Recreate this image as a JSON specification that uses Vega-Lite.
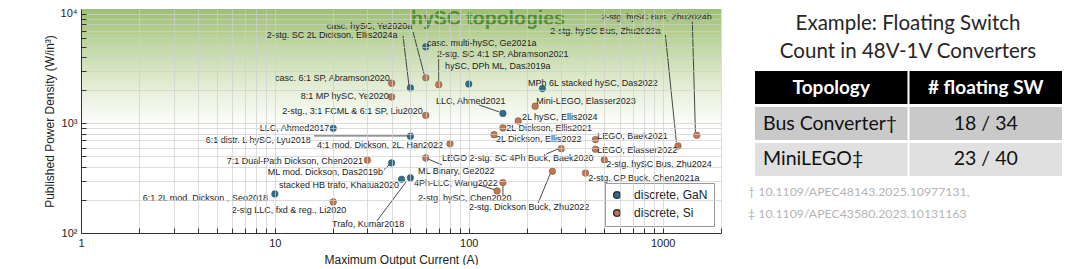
{
  "$schema": "https://vega.github.io/schema/vega-lite/v6.json",
  "padding": {"left": 43, "top": 7, "right": 0, "bottom": 0},
  "background": "white",
  "spacing": 26,
  "config": {"view": {"stroke": null}, "font": "Liberation Sans"},
  "resolve": {"scale": {"x": "independent", "y": "independent", "color": "independent"}, "legend": {"color": "independent"}},
  "datasets": {
    "points": [
      {"current": 60, "density": 4970, "tech": "discrete, GaN"},
      {"current": 50, "density": 2100, "tech": "discrete, GaN"},
      {"current": 60, "density": 2600, "tech": "discrete, Si"},
      {"current": 70, "density": 2250, "tech": "discrete, Si"},
      {"current": 100, "density": 2280, "tech": "discrete, GaN"},
      {"current": 40, "density": 2320, "tech": "discrete, Si"},
      {"current": 40, "density": 1740, "tech": "discrete, Si"},
      {"current": 60, "density": 1180, "tech": "discrete, Si"},
      {"current": 240, "density": 2070, "tech": "discrete, GaN"},
      {"current": 150, "density": 1230, "tech": "discrete, GaN"},
      {"current": 220, "density": 1430, "tech": "discrete, Si"},
      {"current": 180, "density": 1050, "tech": "discrete, Si"},
      {"current": 150, "density": 907, "tech": "discrete, Si"},
      {"current": 135, "density": 787, "tech": "discrete, Si"},
      {"current": 80, "density": 649, "tech": "discrete, Si"},
      {"current": 300, "density": 587, "tech": "discrete, Si"},
      {"current": 270, "density": 365, "tech": "discrete, Si"},
      {"current": 450, "density": 710, "tech": "discrete, Si"},
      {"current": 450, "density": 580, "tech": "discrete, Si"},
      {"current": 500, "density": 466, "tech": "discrete, Si"},
      {"current": 400, "density": 352, "tech": "discrete, Si"},
      {"current": 1200, "density": 621, "tech": "discrete, Si"},
      {"current": 1500, "density": 778, "tech": "discrete, Si"},
      {"current": 140, "density": 242, "tech": "discrete, Si"},
      {"current": 150, "density": 288, "tech": "discrete, Si"},
      {"current": 20, "density": 900, "tech": "discrete, GaN"},
      {"current": 50, "density": 762, "tech": "discrete, GaN"},
      {"current": 60, "density": 483, "tech": "discrete, Si"},
      {"current": 30, "density": 461, "tech": "discrete, Si"},
      {"current": 40, "density": 435, "tech": "discrete, GaN"},
      {"current": 45, "density": 309, "tech": "discrete, GaN"},
      {"current": 50, "density": 318, "tech": "discrete, GaN"},
      {"current": 10, "density": 227, "tech": "discrete, GaN"},
      {"current": 20, "density": 192, "tech": "discrete, Si"}
    ],
    "labels": [
      {"text": "casc. hySC, Ye2020a", "current": 18.5, "density": 7730},
      {"text": "2-stg. SC 2L Dickson, Ellis2024a", "current": 9.08, "density": 6400},
      {"text": "casc. multi-hySC, Ge2021a", "current": 60.9, "density": 5410},
      {"text": "2-stg. SC 4:1 SP, Abramson2021", "current": 68.6, "density": 4290},
      {"text": "hySC, DPh ML, Das2019a", "current": 75.4, "density": 3330},
      {"text": "casc. 6:1 SP, Abramson2020", "current": 10.0, "density": 2600},
      {"text": "8:1 MP hySC, Ye2020", "current": 13.6, "density": 1775},
      {"text": "2-stg., 3:1 FCML & 6:1 SP, Liu2020", "current": 10.9, "density": 1297},
      {"text": "MPh 6L stacked hySC, Das2022", "current": 202, "density": 2335},
      {"text": "LLC, Ahmed2021", "current": 67.8, "density": 1600},
      {"text": "Mini-LEGO, Elasser2023", "current": 223, "density": 1600},
      {"text": "2L hySC, Ellis2024", "current": 188, "density": 1143},
      {"text": "2L Dickson, Ellis2021", "current": 156, "density": 908},
      {"text": "LLC, Ahmed2017", "current": 8.35, "density": 908},
      {"text": "6:1 distr. L hySC, Lyu2018", "current": 4.4, "density": 705},
      {"text": "4:1 mod. Dickson, 2L, Han2022", "current": 16.5, "density": 635},
      {"text": "2L Dickson, Ellis2022", "current": 138, "density": 720},
      {"text": "LEGO, Baek2021", "current": 460, "density": 767},
      {"text": "LEGO, Elasser2022", "current": 460, "density": 571},
      {"text": "LEGO 2-stg. SC 4Ph Buck, Baek2020", "current": 72.8, "density": 483},
      {"text": "2-stg. hySC Bus, Zhu2024", "current": 512, "density": 425},
      {"text": "2-stg. CP Buck, Chen2021a", "current": 413, "density": 318},
      {"text": "7:1 Dual-Path Dickson, Chen2021", "current": 5.65, "density": 454},
      {"text": "ML mod. Dickson, Das2019b", "current": 9.19, "density": 360},
      {"text": "stacked HB trafo, Khatua2020", "current": 10.5, "density": 274},
      {"text": "ML Binary, Ge2022", "current": 54.7, "density": 367},
      {"text": "4Ph-LLC, Wang2022", "current": 52.2, "density": 286},
      {"text": "2-stg. hySC, Chen2020", "current": 54.7, "density": 209},
      {"text": "2-stg. Dickson Buck, Zhu2022", "current": 100.4, "density": 171},
      {"text": "6:1 2L mod. Dickson , Seo2018", "current": 2.08, "density": 208},
      {"text": "2-stg LLC, fxd & reg., Li2020", "current": 5.99, "density": 162},
      {"text": "Trafo, Kumar2018", "current": 19.7, "density": 121},
      {"text": "2-stg. hySC Bus, Zhu2024b", "current": 482, "density": 9330},
      {"text": "2-stg. hySC Bus, Zhu2023a", "current": 263, "density": 6950}
    ],
    "arrows": [
      {"x1": 45.8, "y1": 6270, "x2": 49.2, "y2": 2190},
      {"x1": 51.6, "y1": 6810, "x2": 58.8, "y2": 2820},
      {"x1": 70, "y1": 3860, "x2": 70, "y2": 2430},
      {"x1": 15.9, "y1": 767, "x2": 48.0, "y2": 767},
      {"x1": 113, "y1": 1469, "x2": 143.5, "y2": 1270},
      {"x1": 72.8, "y1": 417, "x2": 61.6, "y2": 473},
      {"x1": 36.5, "y1": 376, "x2": 38.8, "y2": 417},
      {"x1": 33.6, "y1": 129, "x2": 47.5, "y2": 292},
      {"x1": 113, "y1": 274, "x2": 137, "y2": 247},
      {"x1": 150, "y1": 222, "x2": 150, "y2": 268},
      {"x1": 251, "y1": 525, "x2": 289, "y2": 583},
      {"x1": 228, "y1": 188, "x2": 263, "y2": 345},
      {"x1": 1033, "y1": 6400, "x2": 1177, "y2": 676},
      {"x1": 1423, "y1": 8400, "x2": 1476, "y2": 834}
    ],
    "region": [
      {"text": "hySC topologies", "current": 50.4, "density": 8960}
    ],
    "table": [
      {"row": "header", "col": "Topology", "text": "Topology"},
      {"row": "header", "col": "# floating SW", "text": "# floating SW"},
      {"row": "Bus Converter", "col": "Topology", "text": "Bus Converter†"},
      {"row": "Bus Converter", "col": "# floating SW", "text": "18 / 34"},
      {"row": "MiniLEGO", "col": "Topology", "text": "MiniLEGO‡"},
      {"row": "MiniLEGO", "col": "# floating SW", "text": "23 / 40"}
    ],
    "notes": [
      {"row": "title", "text": "Example: Floating Switch\nCount in 48V-1V Converters"},
      {"row": "notes", "text": "† 10.1109/APEC48143.2025.10977131,\n‡ 10.1109/APEC43580.2023.10131163"}
    ]
  },
  "hconcat": [
    {
      "width": 640,
      "height": 224,
      "layer": [
        {
          "data": {"values": [{}]},
          "mark": {
            "type": "rect",
            "fill": {
              "gradient": "linear", "x1": 0, "y1": 0, "x2": 0, "y2": 1,
              "stops": [
                {"offset": 0, "color": "#9ebf72"},
                {"offset": 0.35, "color": "#c6dbab"},
                {"offset": 0.7, "color": "#e8f0dc"},
                {"offset": 1, "color": "#ffffff"}
              ]
            }
          },
          "encoding": {
            "x": {
              "datum": 1, "type": "quantitative",
              "scale": {"type": "log", "domain": [1, 2000], "nice": false},
              "axis": {
                "title": "Maximum Output Current (A)",
                "values": [1,2,3,4,5,6,7,8,9,10,20,30,40,50,60,70,80,90,100,200,300,400,500,600,700,800,900,1000,2000],
                "labelExpr": "datum.value == 1 ? '1' : datum.value == 10 ? '10' : datum.value == 100 ? '100' : datum.value == 1000 ? '1000' : ''",
                "labelFontSize": 11, "labelColor": "#222", "labelPadding": 9,
                "titleFontSize": 12, "titleFontWeight": "normal", "titleColor": "#222", "titlePadding": 6,
                "tickSize": -5, "tickColor": "#333", "domainColor": "#333",
                "grid": true, "gridColor": "#cfcfcf", "gridOpacity": 0.7,
                "zindex": 1, "labelFlush": false, "labelOverlap": false
              }
            },
            "x2": {"datum": 2000},
            "y": {
              "datum": 11000, "type": "quantitative",
              "scale": {"type": "log", "domain": [100, 11000], "nice": false},
              "axis": {
                "title": "Published Power Density (W/in³)",
                "values": [100,200,300,400,500,600,700,800,900,1000,2000,3000,4000,5000,6000,7000,8000,9000,10000],
                "labelExpr": "datum.value == 100 ? '10²' : datum.value == 1000 ? '10³' : datum.value == 10000 ? '10⁴' : ''",
                "labelFontSize": 11, "labelColor": "#222", "labelPadding": 9,
                "titleFontSize": 12, "titleFontWeight": "normal", "titleColor": "#222", "titlePadding": 4,
                "tickSize": -5, "tickColor": "#333", "domainColor": "#333",
                "grid": true, "gridColor": "#cfcfcf", "gridOpacity": 0.7,
                "zindex": 1, "labelFlush": false, "labelOverlap": false
              }
            },
            "y2": {"datum": 900}
          }
        },
        {
          "data": {"name": "arrows"},
          "mark": {"type": "rule", "color": "#333", "strokeWidth": 0.9},
          "encoding": {
            "x": {"field": "x1", "type": "quantitative"},
            "y": {"field": "y1", "type": "quantitative"},
            "x2": {"field": "x2"},
            "y2": {"field": "y2"}
          }
        },
        {
          "data": {"name": "points"},
          "mark": {"type": "point", "filled": true, "size": 45, "opacity": 1, "stroke": "#333", "strokeWidth": 0.5, "strokeOpacity": 0.6},
          "encoding": {
            "x": {"field": "current", "type": "quantitative"},
            "y": {"field": "density", "type": "quantitative"},
            "color": {
              "field": "tech", "type": "nominal",
              "scale": {"domain": ["discrete, GaN", "discrete, Si"], "range": ["#2f6d8c", "#c27650"]},
              "legend": {
                "title": null, "orient": "bottom-right", "offset": 7,
                "padding": 6, "strokeColor": "#999", "fillColor": "white",
                "labelFontSize": 12, "labelColor": "#222", "labelOffset": 11,
                "symbolSize": 45, "symbolType": "circle", "rowPadding": 4, "cornerRadius": 0
              }
            }
          }
        },
        {
          "data": {"name": "labels"},
          "mark": {"type": "text", "align": "left", "baseline": "middle", "font": "Liberation Sans", "fontSize": 9, "color": "#222"},
          "encoding": {
            "x": {"field": "current", "type": "quantitative"},
            "y": {"field": "density", "type": "quantitative"},
            "text": {"field": "text"}
          }
        },
        {
          "data": {"name": "region"},
          "mark": {"type": "text", "align": "left", "baseline": "middle", "fontSize": 19.5, "fontWeight": "bold", "color": "#4f8f2f"},
          "encoding": {
            "x": {"field": "current", "type": "quantitative"},
            "y": {"field": "density", "type": "quantitative"},
            "text": {"field": "text"}
          }
        }
      ]
    },
    {
      "width": 320,
      "height": 224,
      "layer": [
        {
          "data": {"name": "table"},
          "mark": {"type": "rect"},
          "encoding": {
            "x": {"field": "col", "type": "nominal", "scale": {"domain": ["Topology", "# floating SW"], "range": [7, 314], "paddingInner": 0.013, "paddingOuter": 0}, "axis": null},
            "y": {"field": "row", "type": "nominal", "scale": {"domain": ["title", "header", "Bus Converter", "MiniLEGO", "notes"], "range": [26, 203], "paddingInner": 0.083, "paddingOuter": 0}, "axis": null},
            "color": {"field": "row", "type": "nominal", "scale": {"domain": ["header", "Bus Converter", "MiniLEGO"], "range": ["#000000", "#c9c9c9", "#e0e0e0"]}, "legend": null}
          }
        },
        {
          "data": {"name": "table"},
          "transform": [{"filter": "datum.row == 'header'"}],
          "mark": {"type": "text", "font": "Lato", "fontSize": 19, "fontWeight": "bold", "color": "white", "align": "center", "baseline": "middle"},
          "encoding": {
            "x": {"field": "col", "type": "nominal", "bandPosition": 0.5},
            "y": {"field": "row", "type": "nominal", "bandPosition": 0.5},
            "text": {"field": "text"}
          }
        },
        {
          "data": {"name": "table"},
          "transform": [{"filter": "datum.row != 'header' && datum.col == 'Topology'"}],
          "mark": {"type": "text", "font": "Lato", "fontSize": 19.5, "color": "#111", "align": "left", "baseline": "middle", "dx": 8},
          "encoding": {
            "x": {"field": "col", "type": "nominal", "bandPosition": 0},
            "y": {"field": "row", "type": "nominal", "bandPosition": 0.5},
            "text": {"field": "text"}
          }
        },
        {
          "data": {"name": "table"},
          "transform": [{"filter": "datum.row != 'header' && datum.col != 'Topology'"}],
          "mark": {"type": "text", "font": "Lato", "fontSize": 19.5, "color": "#111", "align": "center", "baseline": "middle"},
          "encoding": {
            "x": {"field": "col", "type": "nominal", "bandPosition": 0.5},
            "y": {"field": "row", "type": "nominal", "bandPosition": 0.5},
            "text": {"field": "text"}
          }
        },
        {
          "data": {"name": "notes"},
          "transform": [{"filter": "datum.row == 'title'"}],
          "mark": {"type": "text", "font": "Lato", "fontSize": 20.5, "color": "#262626", "align": "center", "baseline": "middle", "lineBreak": "\n", "lineHeight": 28, "dy": -27.5},
          "encoding": {
            "y": {"field": "row", "type": "nominal", "bandPosition": 0.5},
            "text": {"field": "text"}
          }
        },
        {
          "data": {"name": "notes"},
          "transform": [{"filter": "datum.row == 'notes'"}],
          "mark": {"type": "text", "font": "Lato", "fontSize": 12.3, "color": "#b5b5b5", "align": "left", "baseline": "middle", "lineBreak": "\n", "lineHeight": 22, "dx": -7, "dy": -3.5},
          "encoding": {
            "x": {"datum": "Topology", "type": "nominal", "bandPosition": 0},
            "y": {"field": "row", "type": "nominal", "bandPosition": 0.5},
            "text": {"field": "text"}
          }
        }
      ]
    }
  ]
}
